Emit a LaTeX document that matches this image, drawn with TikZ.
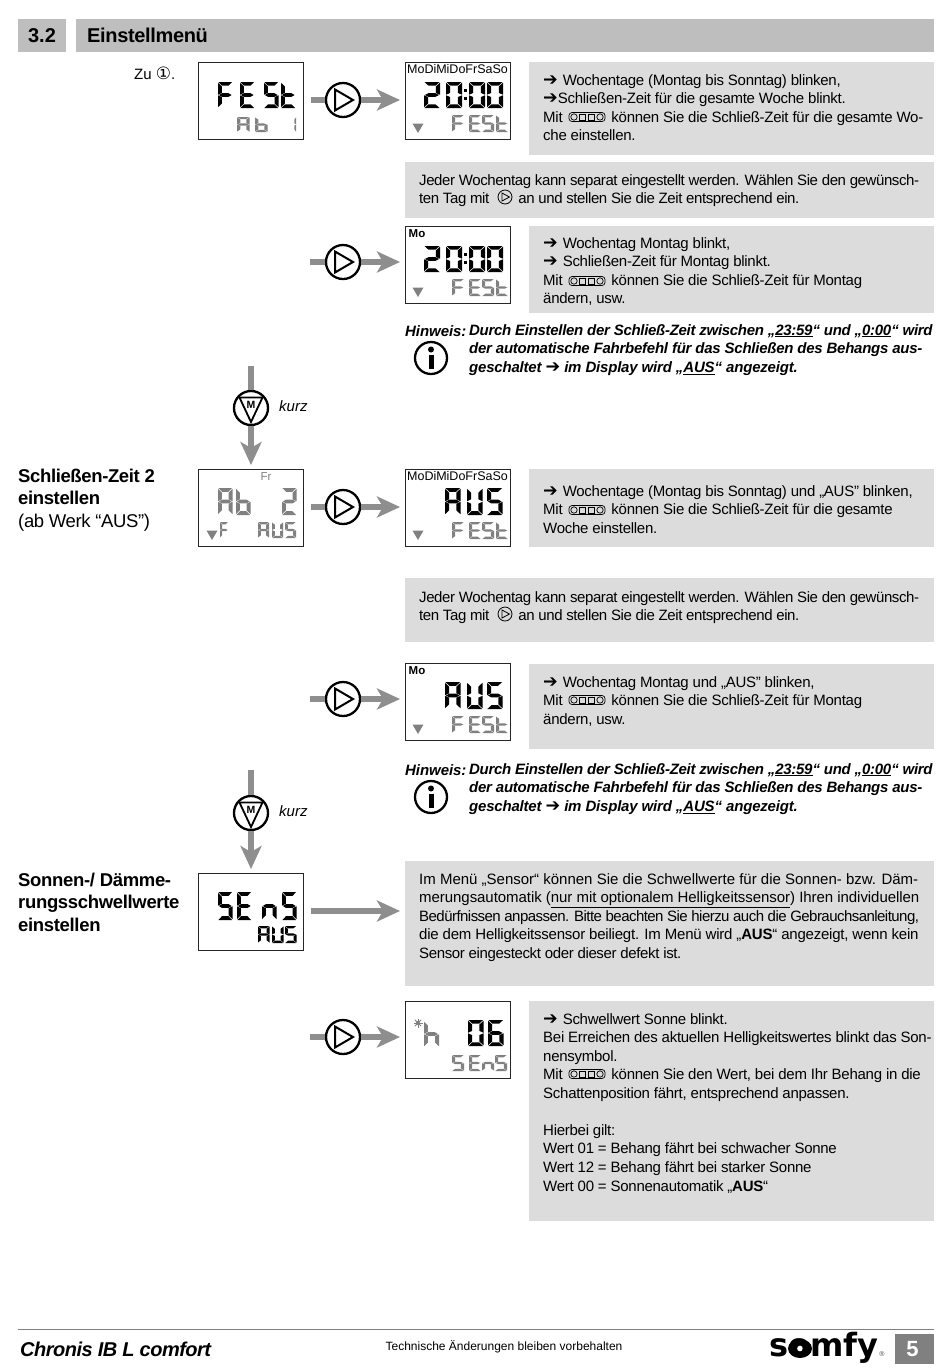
\documentclass[tikz,border=0pt]{standalone}
\usepackage{fontspec}
\setmainfont{Liberation Sans}
\newfontfamily\dejavu{DejaVu Sans}
\newfontfamily\dejavub{DejaVu Sans Bold}
\usetikzlibrary{arrows.meta,calc}
\definecolor{boxgray}{HTML}{DCDCDC}
\definecolor{bandgray}{HTML}{BEBEBE}
\definecolor{arrgray}{HTML}{8E8E8E}
\definecolor{lcdgray}{HTML}{808080}
% seven segment shapes (unit square, y downward)
\def\sega{(0.03,0)--(0.97,0)--(0.72,0.14)--(0.28,0.14)--cycle}
\def\segd{(0.03,1)--(0.97,1)--(0.72,0.86)--(0.28,0.86)--cycle}
\def\segf{(0,0.03)--(0.26,0.17)--(0.26,0.42)--(0,0.49)--cycle}
\def\segb{(1,0.03)--(0.74,0.17)--(0.74,0.42)--(1,0.49)--cycle}
\def\sege{(0,0.51)--(0.26,0.58)--(0.26,0.83)--(0,0.97)--cycle}
\def\segc{(1,0.51)--(0.74,0.58)--(0.74,0.83)--(1,0.97)--cycle}
\def\segg{(0.06,0.5)--(0.28,0.43)--(0.72,0.43)--(0.94,0.5)--(0.72,0.57)--(0.28,0.57)--cycle}
\def\chrF{a,f,g,e}
\def\chrE{a,f,g,e,d}
\def\chrS{a,f,g,c,d}
\def\chrt{f,g,e,d}
\def\chrA{a,b,c,e,f,g}
\def\chrb{f,e,g,c,d}
\def\chrU{b,c,d,e,f}
\def\chrn{e,g,c}
\def\chrh{f,e,g,c}
\def\chrO{a,b,c,d,e,f}
\def\chrI{b,c}
\def\chrT{a,b,g,e,d}
\def\chrX{a,f,e,d,c,g}
\newcommand\lcdw[5]{% y, w, h, colour, list of x/char
  \foreach \cx/\cc in {#5}{%
    \begin{scope}[shift={(\cx,#1)},x=#2pt,y=-#3pt]
      \edef\seglist{\csname chr\cc\endcsname}%
      \foreach \sg in \seglist{%
        \expandafter\let\expandafter\curseg\csname seg\sg\endcsname
        \fill[#4] \curseg;
      }
    \end{scope}}}
\newcommand\lcdtri[2]{\fill[lcdgray] (#1-5.5,#2-4.5)--(#1+5.5,#2-4.5)--(#1,#2+5)--cycle;}
\newcommand\playglyph[3]{\draw[line width=#3pt,line join=miter] (#1-6,#2-10.5)--(#1+12,#2)--(#1-6,#2+10.5)--cycle;}
\newcommand\keyrow[2]{%
  \begin{scope}[shift={(#1,#2)}]
   \draw[line width=0.7pt,rounded corners=3pt] (0,-4.5) rectangle (36,4.5);
   \draw[line width=0.7pt] (5,0) circle (3.2);
   \draw[line width=0.7pt] (31,0) circle (3.2);
   \draw[line width=0.6pt] (10.5,-3) rectangle (16.5,3);
   \draw[line width=0.6pt] (19.5,-3) rectangle (25.5,3);
  \end{scope}}
\newcommand\smallplay[2]{%
  \draw[line width=0.8pt] (#1,#2) circle (7);
  \draw[line width=0.8pt] (#1-3,#2-4)--(#1+4.5,#2)--(#1-3,#2+4)--cycle;}
\newcommand\arr{{\dejavu\fontsize{17.5}{18.55}\selectfont ➔}}
\newcommand\kgap{\hspace{41pt}}
\newcommand\ls[2]{{\addfontfeature{LetterSpace=#1}#2}}
\tikzset{
  panel/.style={fill=boxgray,draw=none},
  lcd/.style={draw=black!85,line width=1.4pt,fill=white,minimum width=105pt,minimum height=77pt,inner sep=0pt,anchor=north west},
  btn/.style={circle,draw=black,line width=2.3pt,fill=white,minimum size=34pt,inner sep=0pt},
  flow/.style={draw=arrgray,line width=5.5pt,-{Stealth[length=23pt,width=21pt,inset=6pt]},shorten >=5pt},
  stem/.style={draw=arrgray,line width=5.5pt},
  txt/.style={anchor=north west,align=left,inner sep=0pt,font=\fontsize{15}{18.55}\selectfont\addfontfeature{LetterSpace=-1.8},execute at begin node={\rule{0pt}{12pt}}},
  hint/.style={txt,font=\fontsize{15}{18.55}\selectfont\bfseries\itshape\addfontfeature{LetterSpace=-1.7}},
  head/.style={anchor=north west,align=left,inner sep=0pt,font=\fontsize{18.5}{22.8}\selectfont\addfontfeature{LetterSpace=-2},execute at begin node={\rule{0pt}{15pt}}},
  lcdlabel/.style={inner sep=0pt,font=\fontsize{12.5}{14}\selectfont},
}
\begin{document}
\begin{tikzpicture}[x=1pt,y=-1pt]
\useasboundingbox (0,0) rectangle (950,1369);
\fill[white] (0,0) rectangle (950,1369);
% header
\fill[bandgray] (18,19) rectangle (66,52);
\fill[bandgray] (76,19) rectangle (934,52);
\node[inner sep=0pt,font=\fontsize{20}{24}\selectfont\bfseries] (secno) at (42,35.5) {3.2};
\node[inner sep=0pt,anchor=west,font=\fontsize{20}{24}\selectfont\bfseries\addfontfeature{LetterSpace=-1.7}] (sectitle) at (87,35.5) {Einstellmenü};
% panels
\fill[panel] (529,62) rectangle (934,155);
\fill[panel] (405,162) rectangle (934,218);
\fill[panel] (529,226) rectangle (934,313);
\fill[panel] (529,469) rectangle (934,547);
\fill[panel] (405,578) rectangle (934,642);
\fill[panel] (529,664) rectangle (934,749);
\fill[panel] (405,861) rectangle (934,986);
\fill[panel] (529,1001) rectangle (934,1221);
% displays
\node[lcd] (d1) at (198,62) {};
\node[lcd] (d2) at (405,62) {};
\node[lcd] (d3) at (405,226) {};
\node[lcd] (d4) at (198,469) {};
\node[lcd] (d5) at (405,469) {};
\node[lcd] (d6) at (405,663) {};
\node[lcd] (d7) at (198,873) {};
\node[lcd] (d8) at (405,1001) {};
% buttons
\node[btn] (p1) at (343,100) {};
\node[btn] (p2) at (343,262) {};
\node[btn] (p3) at (343,507) {};
\node[btn] (p4) at (343,699) {};
\node[btn] (p5) at (343,1037) {};
\node[btn] (m1) at (251,408) {};
\node[btn] (m2) at (251,813) {};
\playglyph{341}{100}{2}\playglyph{341}{262}{2}\playglyph{341}{507}{2}\playglyph{341}{699}{2}\playglyph{341}{1037}{2}
\foreach \my in {408,813}{
  \draw[line width=1.8pt,line join=miter] (251-11.5,\my-10.5)--(251+11.5,\my-10.5)--(251,\my+14)--cycle;
  \node[inner sep=0pt,font=\fontsize{10.5}{12}\selectfont\bfseries] at (251,\my-3) {M};
}
% free ends
\coordinate (s2) at (310,262);
\coordinate (s4) at (310,699);
\coordinate (s5) at (310,1037);
\coordinate (v1) at (251,366);
\coordinate (v2) at (251,770);
% connectors
\draw[stem,shorten <=7pt] (d1.east|-p1) -- (p1);
\draw[flow] (p1) -- (d2.west|-p1);
\draw[stem] (s2) -- (p2);
\draw[flow] (p2) -- (d3.west|-p2);
\draw[stem,shorten <=7pt] (d4.east|-p3) -- (p3);
\draw[flow] (p3) -- (d5.west|-p3);
\draw[stem] (s4) -- (p4);
\draw[flow] (p4) -- (d6.west|-p4);
\draw[stem] (s5) -- (p5);
\draw[flow] (p5) -- (d8.west|-p5);
\draw[stem] (v1) -- (m1);
\draw[flow,shorten >=4pt] (m1) -- (m1|-d4.north);
\draw[stem] (v2) -- (m2);
\draw[flow,shorten >=4pt] (m2) -- (m2|-d7.north);
\coordinate (t7) at (405,911);
\draw[flow,shorten <=7pt] (d7.east|-t7) -- (t7);
% LCD d1
\lcdw{82}{14.5}{26}{black}{218/F,240/E,264/S,281/t}
\lcdw{117}{12.5}{15}{lcdgray}{237/A,255/b}
\lcdw{117}{6}{15}{lcdgray}{290/I}
% LCD d2
\node[lcdlabel] (dl2) at (457.5,69.5) {MoDiMiDoFrSaSo};
\lcdw{82}{16}{26}{black}{424/T,446/O,469/O,487/O}
\fill[black] (463.5,89) rectangle +(3,3); \fill[black] (463.5,97) rectangle +(3,3);
\lcdw{115}{12}{17}{lcdgray}{452/F,469/E,482/S,496/t}
\lcdtri{418}{128}
% LCD d3
\node[lcdlabel,font=\fontsize{11.5}{13}\selectfont\bfseries] (dl3) at (417,233.5) {Mo};
\lcdw{246}{16}{26}{black}{424/T,446/O,469/O,487/O}
\fill[black] (463.5,253) rectangle +(3,3); \fill[black] (463.5,261) rectangle +(3,3);
\lcdw{279}{12}{17}{lcdgray}{452/F,469/E,482/S,496/t}
\lcdtri{418}{292}
% LCD d4
\node[lcdlabel,text=lcdgray,font=\fontsize{11.5}{13}\selectfont] (dl4) at (266,477) {Fr};
\lcdw{488}{14.5}{27}{lcdgray}{218/A,236/b,282/T}
\lcdw{522}{8}{16}{lcdgray}{220/F}
\lcdw{522}{11}{16}{lcdgray}{258/A,272/U,285/S}
\lcdtri{212}{535}
% LCD d5
\node[lcdlabel] (dl5) at (457.5,476.5) {MoDiMiDoFrSaSo};
\lcdw{488}{15.5}{27}{black}{445/A,467/U,487/S}
\lcdw{522}{12}{17}{lcdgray}{452/F,469/E,482/S,496/t}
\lcdtri{418}{535}
% LCD d6
\node[lcdlabel,font=\fontsize{11.5}{13}\selectfont\bfseries] (dl6) at (417,670.5) {Mo};
\lcdw{682}{15.5}{27}{black}{445/A,467/U,487/S}
\lcdw{716}{12}{17}{lcdgray}{452/F,469/E,482/S,496/t}
\lcdtri{418}{729}
% LCD d7
\lcdw{892}{14.5}{28}{black}{218/S,237/E,262/n,282/S}
\lcdw{926}{11.5}{17}{black}{258/A,272/U,285/S}
% LCD d8
\lcdw{1021}{15}{26}{lcdgray}{424/h}
\lcdw{1020}{15.5}{26}{black}{468/O,488/X}
\lcdw{1055}{12}{16}{lcdgray}{452/S,469/E,482/n,495/S}
\foreach \a in {0,45,...,315}{\draw[lcdgray,line width=0.8pt] (418,1023) -- ++(\a:4.5);}
\fill[lcdgray] (418,1023) circle (2);
% text
\node[inner sep=0pt,anchor=west,font=\fontsize{15}{18}\selectfont] (zu) at (134,73) {Zu {\dejavu\fontsize{17}{18}\selectfont ①}.};
\node[txt] (b1) at (543,74) {\arr{}\hspace{1pt} Wochentage (Montag bis Sonntag) blinken,\\\arr{}Schließen-Zeit für die gesamte Woche blinkt.\\Mit \kgap{} können Sie die Schließ-Zeit für die gesamte Wo-\\che einstellen.};
\keyrow{569}{117}
\node[txt] (b2) at (419,174) {\ls{-2.7}{Jeder Wochentag kann separat eingestellt werden. Wählen Sie den gewünsch-}\\\ls{-2.7}{ten Tag mit \hspace{21.5pt} an und stellen Sie die Zeit entsprechend ein.}};
\smallplay{505}{197}
\node[txt] (b3) at (543,237) {\arr{}\hspace{1pt} Wochentag Montag blinkt,\\\arr{}\hspace{1pt} Schließen-Zeit für Montag blinkt.\\Mit \kgap{} können Sie die Schließ-Zeit für Montag\\ändern, usw.};
\keyrow{569}{281}
\node[hint,anchor=north west] (h1a) at (405,324) {\ls{-0.5}{Hinweis:}};
\node[hint] (h1b) at (469,324) {\ls{-2}{Durch Einstellen der Schließ-Zeit zwischen „\underline{23:59}“ und „\underline{0:00}“ wird}\\der automatische Fahrbefehl für das Schließen des Behangs aus-\\\ls{-1.3}{geschaltet \arr{} im Display wird „\underline{AUS}“ angezeigt.}};
\node[inner sep=0pt,anchor=west,font=\fontsize{15}{18}\selectfont\itshape] (k1) at (279,406) {kurz};
\node[head] (l1) at (18,468.5) {\textbf{Schließen-Zeit 2}\\\textbf{einstellen}\\(ab Werk “AUS”)};
\node[txt] (b4) at (543,485) {\arr{}\hspace{1pt} Wochentage (Montag bis Sonntag) und „AUS” blinken,\\Mit \kgap{} können Sie die Schließ-Zeit für die gesamte\\Woche einstellen.};
\keyrow{569}{510}
\node[txt] (b5) at (419,591) {\ls{-2.7}{Jeder Wochentag kann separat eingestellt werden. Wählen Sie den gewünsch-}\\\ls{-2.7}{ten Tag mit \hspace{21.5pt} an und stellen Sie die Zeit entsprechend ein.}};
\smallplay{505}{614}
\node[txt] (b6) at (543,676) {\arr{}\hspace{1pt} Wochentag Montag und „AUS” blinken,\\Mit \kgap{} können Sie die Schließ-Zeit für Montag\\ändern, usw.};
\keyrow{569}{700}
\node[hint] (h2a) at (405,763) {\ls{-0.5}{Hinweis:}};
\node[hint] (h2b) at (469,763) {\ls{-2}{Durch Einstellen der Schließ-Zeit zwischen „\underline{23:59}“ und „\underline{0:00}“ wird}\\der automatische Fahrbefehl für das Schließen des Behangs aus-\\\ls{-1.3}{geschaltet \arr{} im Display wird „\underline{AUS}“ angezeigt.}};
\node[inner sep=0pt,anchor=west,font=\fontsize{15}{18}\selectfont\itshape] (k2) at (279,811) {kurz};
\node[head,font=\fontsize{18.5}{22.8}\selectfont\bfseries\addfontfeature{LetterSpace=-1.8}] (l2) at (18,872.5) {Sonnen-/ Dämme-\\rungsschwellwerte\\einstellen};
\node[txt] (b7) at (419,873) {\ls{0}{Im Menü „Sensor“ können Sie die Schwellwerte für die Sonnen- bzw. Däm-}\\\ls{-0.35}{merungsautomatik (\underline{nur mit optionalem Helligkeitssensor}) Ihren individuellen}\\\ls{-3.6}{Bedürfnissen anpassen. Bitte beachten Sie hierzu auch die Gebrauchsanleitung,}\\\ls{-1.45}{die dem Helligkeitssensor beiliegt. Im Menü wird „\textbf{AUS}“ angezeigt, wenn kein}\\\ls{-2.4}{Sensor eingesteckt oder dieser defekt ist.}};
\node[txt] (b8) at (543,1013) {\arr{}\hspace{1pt} Schwellwert Sonne blinkt.\\Bei Erreichen des aktuellen Helligkeitswertes blinkt das Son-\\nensymbol.\\Mit \kgap{} können Sie den Wert, bei dem Ihr Behang in die\\Schattenposition fährt, entsprechend anpassen.\\\mbox{}\\Hierbei gilt:\\Wert 01 = Behang fährt bei schwacher Sonne\\Wert 12 = Behang fährt bei starker Sonne\\Wert 00 = Sonnenautomatik „\textbf{AUS}“};
\keyrow{569}{1074}
% info icons
\foreach \iy in {358,797}{
  \draw[line width=2.3pt] (431,\iy) circle (16);
  \fill (431,\iy-8.5) circle (3);
  \fill (428.5,\iy-3) rectangle (433.5,\iy+11);
}
% footer
\draw[lcdgray,line width=1pt] (18,1329.5) -- (934,1329.5);
\node[inner sep=0pt,anchor=west,font=\fontsize{20}{24}\selectfont\bfseries\itshape\addfontfeature{LetterSpace=-2.5}] (f1) at (20,1349) {Chronis IB L comfort};
\node[inner sep=0pt,font=\fontsize{12}{14}\selectfont] (f2) at (504,1347) {Technische Änderungen bleiben vorbehalten};
\node[inner sep=0pt,anchor=base west,font=\dejavub\fontsize{32}{35}\selectfont] (f3) at (769,1356) {somfy};
\fill[black,even odd rule] (800,1348.5) ellipse (12 and 9.5) (800,1348.5) circle (3);
\node[inner sep=0pt,text=black!70,font=\fontsize{7}{8}\selectfont] (f4) at (882,1354) {®};
\fill[lcdgray] (895,1334) rectangle (934,1364);
\node[inner sep=0pt,text=white,font=\fontsize{22}{24}\selectfont\bfseries] (f5) at (912.5,1349) {5};
\end{tikzpicture}
\end{document}
